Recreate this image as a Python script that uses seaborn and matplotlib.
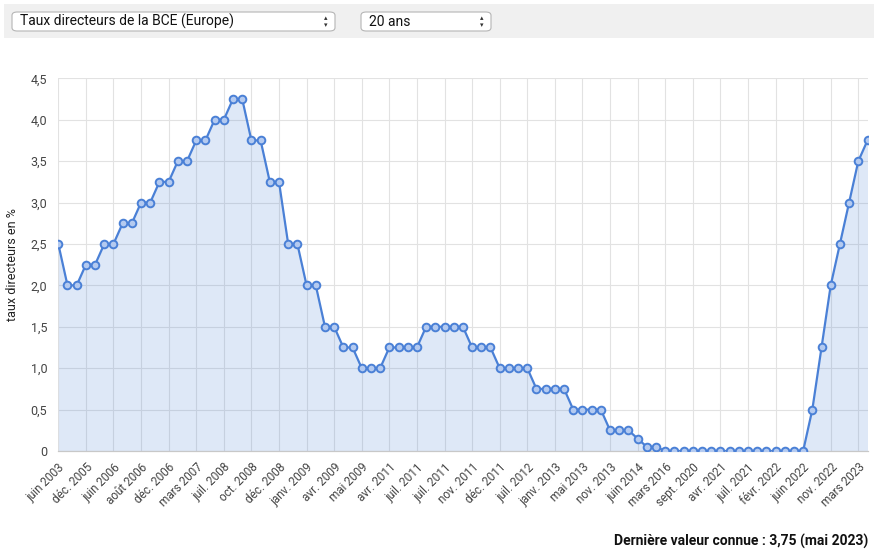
import numpy as np
import pandas as pd
import seaborn as sns
import matplotlib.pyplot as plt
from matplotlib.patches import FancyBboxPatch, Rectangle

# ECB key rate (%) - one value per observation, in order
rates = [2.5, 2.0, 2.0, 2.25, 2.25, 2.5, 2.5, 2.75, 2.75, 3.0,
         3.0, 3.25, 3.25, 3.5, 3.5, 3.75, 3.75, 4.0, 4.0, 4.25,
         4.25, 3.75, 3.75, 3.25, 3.25, 2.5, 2.5, 2.0, 2.0, 1.5,
         1.5, 1.25, 1.25, 1.0, 1.0, 1.0, 1.25, 1.25, 1.25, 1.25,
         1.5, 1.5, 1.5, 1.5, 1.5, 1.25, 1.25, 1.25, 1.0, 1.0,
         1.0, 1.0, 0.75, 0.75, 0.75, 0.75, 0.5, 0.5, 0.5, 0.5,
         0.25, 0.25, 0.25, 0.15, 0.05, 0.05, 0.0, 0.0, 0.0, 0.0,
         0.0, 0.0, 0.0, 0.0, 0.0, 0.0, 0.0, 0.0, 0.0, 0.0,
         0.0, 0.0, 0.5, 1.25, 2.0, 2.5, 3.0, 3.5, 3.75]

# labels shown on every third observation
tick_labels = ["juin 2003", "déc. 2005", "juin 2006", "août 2006", "déc. 2006",
               "mars 2007", "juil. 2008", "oct. 2008", "déc. 2008", "janv. 2009",
               "avr. 2009", "mai 2009", "avr. 2011", "juil. 2011", "juil. 2011",
               "nov. 2011", "déc. 2011", "juil. 2012", "janv. 2013", "mai 2013",
               "nov. 2013", "juin 2014", "mars 2016", "sept. 2020", "avr. 2021",
               "juil. 2021", "févr. 2022", "juin 2022", "nov. 2022", "mars 2023"]
y_ticks = [0, 0.5, 1.0, 1.5, 2.0, 2.5, 3.0, 3.5, 4.0, 4.5]

df = pd.DataFrame({"obs": np.arange(len(rates)), "taux": rates})

sns.set_theme(style="white")
plt.rcParams["font.family"] = ["Roboto", "DejaVu Sans"]

line_col = "#4a80d6"
grid_col = "#e2e2e2"
text_col = "#444444"

fig = plt.figure(figsize=(8.82, 5.57), dpi=100)

# top bar with the two selectors
fig.patches.append(Rectangle((4 / 882, 1 - 38 / 557), 870 / 882, 34 / 557,
                             transform=fig.transFigure, facecolor="#f0f0f0",
                             edgecolor="none", zorder=0))
for x0, x1, label in [(12, 335, "Taux directeurs de la BCE (Europe)"), (361, 491, "20 ans")]:
    fig.patches.append(FancyBboxPatch((x0 / 882, 1 - 31 / 557), (x1 - x0) / 882, 19 / 557,
                                      boxstyle="round,pad=0,rounding_size=0.006",
                                      transform=fig.transFigure, facecolor="white",
                                      edgecolor="#b5b5b5", linewidth=0.8, zorder=1))
    fig.text((x0 + 8) / 882, 1 - 21.5 / 557, label, fontsize=10, color="#111111",
             va="center", ha="left")
    fig.text((x1 - 9) / 882, 1 - 18 / 557, "▴", fontsize=5, color="#333333",
             va="center", ha="center", family="DejaVu Sans")
    fig.text((x1 - 9) / 882, 1 - 25 / 557, "▾", fontsize=5, color="#333333",
             va="center", ha="center", family="DejaVu Sans")

ax = fig.add_axes([58.3 / 882, 1 - 451 / 557, (867.5 - 58.3) / 882, (451 - 78.3) / 557])

ax.fill_between(df["obs"], df["taux"], 0, color=line_col, alpha=0.18, linewidth=0, zorder=1)
sns.lineplot(data=df, x="obs", y="taux", ax=ax, color=line_col, linewidth=1.6,
             marker="o", markersize=5.5, markerfacecolor="#b4caf0",
             markeredgecolor=line_col, markeredgewidth=1.4, zorder=3)

ax.set_xlim(0, len(rates) - 1)
ax.set_ylim(0, 4.5)
ax.set_yticks(y_ticks)
ax.set_yticklabels(["0" if v == 0 else f"{v:.1f}".replace(".", ",") for v in y_ticks],
                   fontsize=9, color=text_col)
ax.set_xticks(np.arange(0, len(rates), 3))
ax.set_xticklabels(tick_labels, rotation=45, ha="right", rotation_mode="anchor",
                   fontsize=8.5, color=text_col)
ax.tick_params(axis="x", length=5, color=grid_col, pad=2)
ax.tick_params(axis="y", length=5, color=grid_col, pad=3)

ax.grid(True, color=grid_col, linewidth=0.8)
ax.set_axisbelow(True)
for s in ["top", "right", "left"]:
    ax.spines[s].set_visible(False)
ax.spines["bottom"].set_color("#c8c8c8")
ax.spines["bottom"].set_linewidth(0.9)

ax.set_xlabel("")
ax.set_ylabel("taux directeurs en %", fontsize=9, color="#222222", labelpad=8)

fig.text(868 / 882, 1 - 541 / 557, "Dernière valeur connue : 3,75 (mai 2023)",
         fontsize=10, fontweight="bold", color="#111111", ha="right", va="center")

fig.savefig("out.png", dpi=100)
